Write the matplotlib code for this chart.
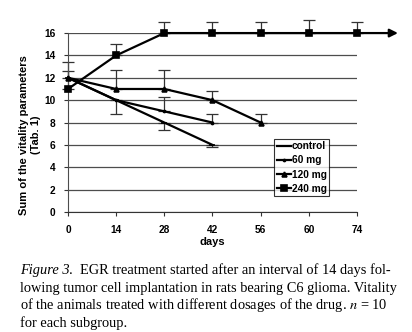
import numpy as np
import matplotlib
matplotlib.use('Agg')
import matplotlib.pyplot as plt

# x axis is categorical (equally spaced labels)
days = ['0', '14', '28', '42', '56', '60', '74']

ctrl = [12, 10, 8, 6]
ctrl_lo = [0, 1.2, 0.7, 0.2]
ctrl_hi = [1.4, 0, 0, 0]

mg60 = [12, 10, 9, 8]
mg60_lo = [0, 0, 0, 0]
mg60_hi = [0, 0, 1.3, 0.8]

mg120 = [12, 11, 11, 10, 8]
mg120_lo = [0, 0, 0, 0, 0]
mg120_hi = [0, 1.7, 1.7, 0.8, 0.8]

mg240 = [11, 14, 16, 16, 16, 16, 16]
mg240_lo = [0, 0, 0, 0, 0, 0, 0]
mg240_hi = [1.6, 1.0, 1.0, 1.0, 1.0, 1.2, 1.0]

plt.rcParams['font.family'] = ['Liberation Sans', 'DejaVu Sans']
plt.rcParams['mathtext.fontset'] = 'stix'

fig = plt.figure(figsize=(4.12, 3.32), dpi=100)
ax = fig.add_axes([0.165, 0.3614, 0.7015, 0.539])

for y in range(0, 17, 2):
    ax.axhline(y, color='0.3', lw=0.9, zorder=1)

series = [
    ('control', ctrl, ctrl_lo, ctrl_hi, '_', 5),
    ('60 mg', mg60, mg60_lo, mg60_hi, '.', 3),
    ('120 mg', mg120, mg120_lo, mg120_hi, '^', 3.5),
    ('240 mg', mg240, mg240_lo, mg240_hi, 's', 4),
]
for name, vals, lo, hi, mk, ms in series:
    x = np.arange(len(vals))
    lo = np.array(lo, dtype=float)
    hi = np.array(hi, dtype=float)
    m = (lo + hi) > 0
    ax.errorbar(x[m], np.array(vals)[m], yerr=[lo[m], hi[m]], fmt='none',
                ecolor='0.2', elinewidth=0.9, capsize=4, capthick=0.9,
                clip_on=False, zorder=2)
    ax.plot(x, vals, color='black', lw=1.6, marker=mk, ms=ms, mew=1.2,
            label=name, clip_on=False, zorder=3)

# arrow continuing the 240 mg curve
n = len(mg240) - 1
ax.annotate('', xy=(n + 0.85, mg240[-1]), xytext=(n, mg240[-1]),
            arrowprops=dict(arrowstyle='-|>', color='black', lw=1.6,
                            mutation_scale=12, shrinkA=0, shrinkB=0),
            annotation_clip=False)

ax.set_xlim(0, len(days) - 1)
ax.set_ylim(0, 16)
ax.set_xticks(range(len(days)))
ax.set_xticklabels(days)
ax.set_yticks(range(0, 17, 2))
for s in ['top', 'right']:
    ax.spines[s].set_visible(False)
ax.spines['left'].set_color('0.3')
ax.spines['bottom'].set_color('0.2')
ax.tick_params(labelsize=7.3, length=3, color='0.2', pad=6)
for t in ax.get_xticklabels() + ax.get_yticklabels():
    t.set_fontweight('bold')

ax.set_xlabel('days', fontsize=8, fontweight='bold', labelpad=2)
ax.set_ylabel('Sum of the vitality parameters\n(Tab. 1)', fontsize=8,
              fontweight='bold', labelpad=3)
ax.yaxis.set_label_coords(-0.095, 0.43)

leg = ax.legend(loc='upper left', bbox_to_anchor=(0.713, 0.41),
                prop={'weight': 'bold', 'size': 7.3}, frameon=True, fancybox=False,
                edgecolor='black', handlelength=1.4, handletextpad=0.1,
                labelspacing=0.42, borderpad=0.25, borderaxespad=0)
leg.get_frame().set_linewidth(0.8)
leg.set_zorder(5)

# caption
cap_font = ['Liberation Serif', 'DejaVu Serif']
fs = 10.4
y0 = 0.174
t1 = fig.text(0.048, y0, 'Figure 3', fontsize=fs, family=cap_font,
              style='italic', va='baseline')
fig.canvas.draw()
bb = t1.get_window_extent()
x2 = bb.x1 / fig.bbox.width
fig.text(x2, y0, '.  EGR treatment started after an interval of 14 days fol-',
         fontsize=fs, family=cap_font, va='baseline')
lines = ['lowing tumor cell implantation in rats bearing C6 glioma. Vitality',
         'of the animals treated with different dosages of the drug. $n$ = 10',
         'for each subgroup.']
for i, s in enumerate(lines):
    fig.text(0.048, y0 - (i + 1) * 0.053, s, fontsize=fs, family=cap_font,
             va='baseline')

fig.savefig('out.png', dpi=100)
